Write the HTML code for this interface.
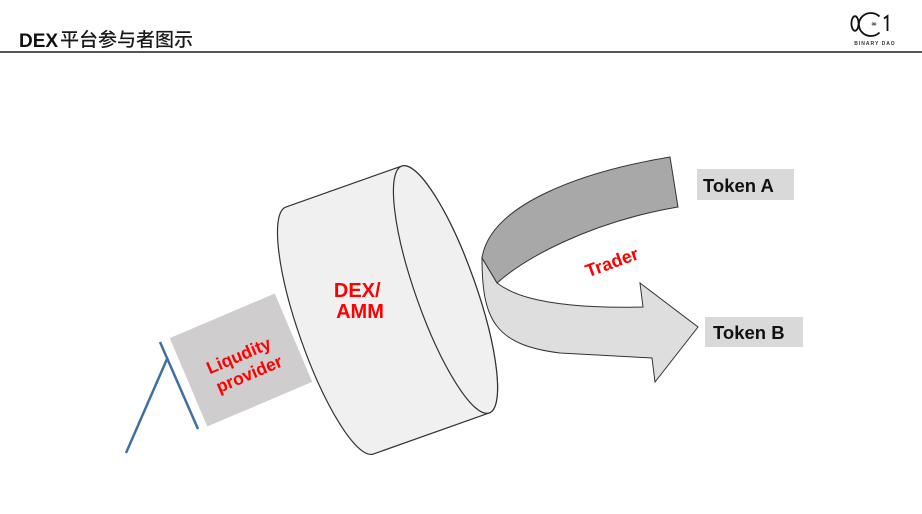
<!DOCTYPE html>
<html>
<head>
<meta charset="utf-8">
<style>
  html,body{margin:0;padding:0;background:#fff;}
  svg{display:block;}
</style>
</head>
<body>
<svg width="922" height="514" viewBox="0 0 922 514" xmlns="http://www.w3.org/2000/svg">
  <rect x="0" y="0" width="922" height="514" fill="#ffffff"/>

  <!-- Title -->
  <text x="19" y="47" font-family="Liberation Sans, sans-serif" font-weight="bold" font-size="19" fill="#111">DEX</text>
  <g font-family="'Noto Sans CJK SC', 'WenQuanYi Zen Hei', sans-serif" font-size="19" font-weight="500" fill="#1a1a1a">
    <text x="60" y="46">平</text>
    <text x="79" y="46">台</text>
    <text x="98" y="46">参</text>
    <text x="117" y="46">与</text>
    <text x="136" y="46">者</text>
    <text x="155" y="46">图</text>
    <text x="174" y="46">示</text>
  </g>
  <rect x="0" y="51" width="922" height="2" fill="#555"/>

  <!-- Logo -->
  <g fill="none" stroke="#111">
    <ellipse cx="855" cy="23.5" rx="3.6" ry="7.3" stroke-width="1.8"/>
    <path d="M 879.5 16.5 A 12 11.5 0 1 0 879.5 32.5" stroke-width="1.8"/>
    <path d="M 884 18.5 L 887.5 16 L 887.5 31" stroke-width="1.8"/>
  </g>
  <text x="874" y="26" font-family="DejaVu Sans, sans-serif" font-size="7" font-weight="bold" fill="#111" text-anchor="middle">∞</text>
  <text x="875" y="45" font-family="Liberation Sans, sans-serif" font-weight="bold" font-size="5" letter-spacing="1" fill="#333" text-anchor="middle">BINARY DAO</text>

  <!-- Cylinder -->
  <g transform="translate(445.5,289.5) rotate(-19.5)">
    <path d="M -123,-131 L 0,-131 A 30 131 0 0 1 0,131 L -123,131 A 30 131 0 0 1 -123,-131 Z" fill="#f0f0f0" stroke="#333" stroke-width="1.2"/>
    <ellipse cx="0" cy="0" rx="30" ry="131" fill="#f0f0f0" stroke="#333" stroke-width="1.2"/>
  </g>
  <text font-family="Liberation Sans, sans-serif" font-weight="bold" font-size="20" fill="#ff0000" text-anchor="middle">
    <tspan x="360" y="297">DEX/</tspan>
    <tspan x="360" y="318">AMM</tspan>
  </text>

  <!-- Arrow dark band -->
  <path d="M 670,157 C 580,172 490,205 482,258 L 497,283 C 525,258 590,222 678,207 Z" fill="#a8a8a8" stroke="#333" stroke-width="1"/>
  <!-- Arrow light part -->
  <path d="M 482,258 C 482,320 495,345 560,353 L 652,358 L 655,382 L 698,327 L 640,283 L 643,307 C 600,308 560,306 530,298 C 515,294 505,289 497,283 Z" fill="#dedede" stroke="#333" stroke-width="1"/>

  <text transform="translate(614,268) rotate(-20)" font-family="Liberation Sans, sans-serif" font-weight="bold" font-size="18" fill="#ff0000" text-anchor="middle">Trader</text>

  <!-- Token boxes -->
  <rect x="697" y="169" width="97" height="31" fill="#d9d9d9"/>
  <text x="703" y="192" font-family="Liberation Sans, sans-serif" font-weight="bold" font-size="18.5" fill="#111">Token A</text>
  <rect x="705" y="317" width="98" height="30" fill="#d9d9d9"/>
  <text x="713" y="339" font-family="Liberation Sans, sans-serif" font-weight="bold" font-size="18.5" fill="#111">Token B</text>

  <!-- Liquidity provider flag -->
  <g transform="translate(241,360) rotate(-23)">
    <rect x="-57" y="-48" width="114" height="96" fill="#cfcdce"/>
    <text font-family="Liberation Sans, sans-serif" font-weight="bold" font-size="17.5" fill="#ff0000" text-anchor="middle">
      <tspan x="2" y="1">Liqudity</tspan>
      <tspan x="2" y="22">provider</tspan>
    </text>
  </g>
  <line x1="160" y1="342" x2="198" y2="429" stroke="#3f6fa3" stroke-width="2.5"/>
  <line x1="167" y1="359" x2="126" y2="453" stroke="#3f6fa3" stroke-width="2.5"/>
</svg>
</body>
</html>
